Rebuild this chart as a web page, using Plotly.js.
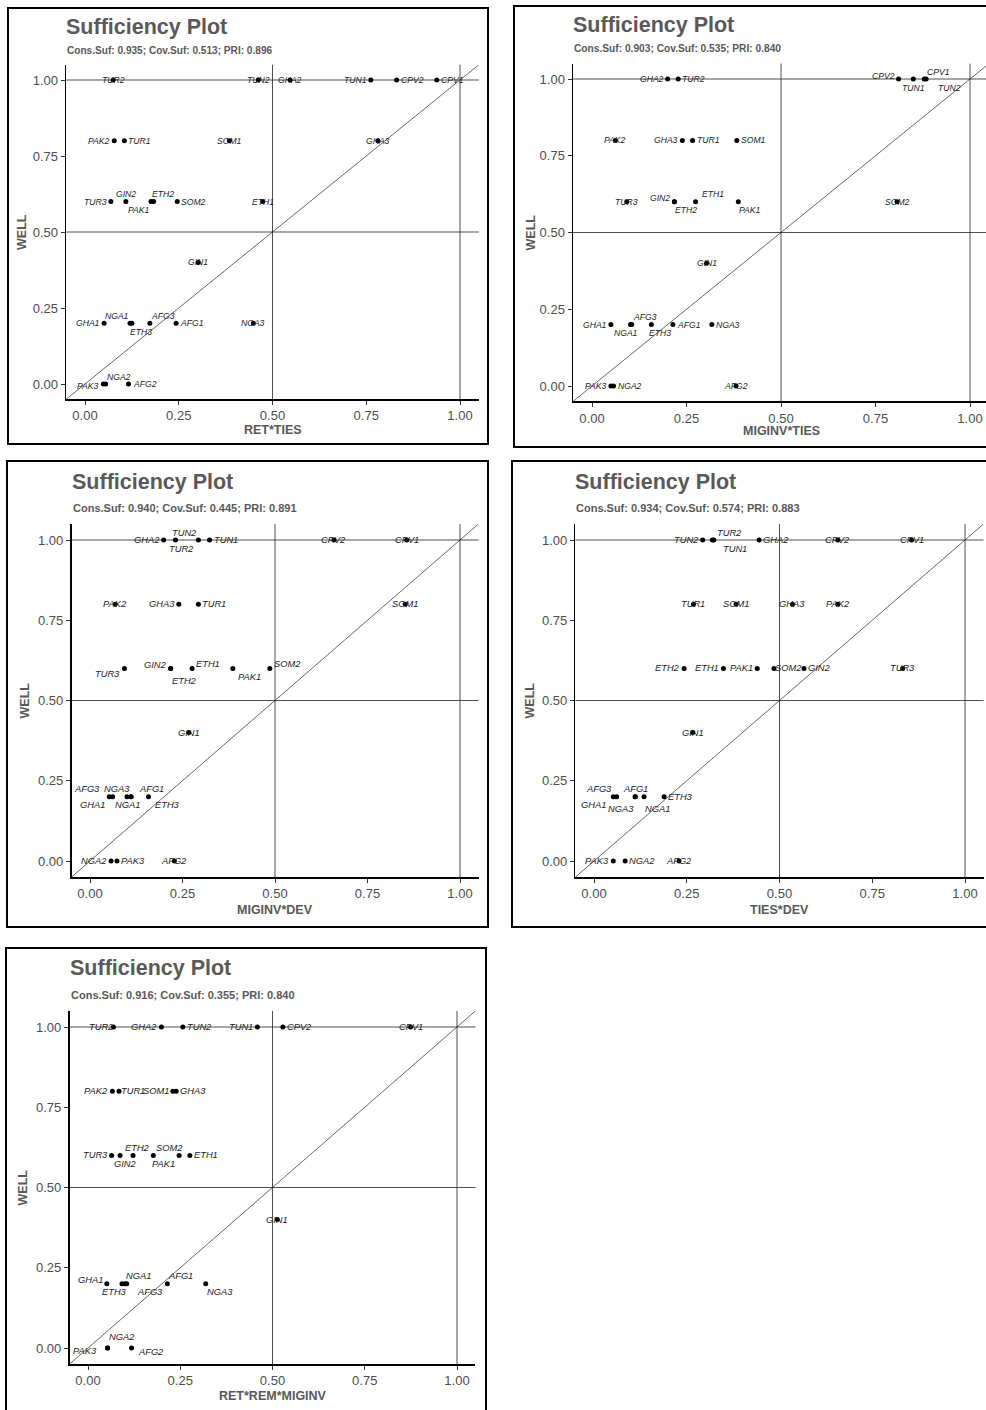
<!DOCTYPE html>
<html><head><meta charset="utf-8">
<script src="https://cdn.plot.ly/plotly-3.0.1.min.js"></script>
<style>html,body{margin:0;padding:0;background:#fff}#chart{width:986px;height:1410px}</style>
</head><body><div id="chart"></div>
<script>
// ---------------- DATA ----------------
const cases = ['AFG1','AFG2','AFG3','CPV1','CPV2','ETH1','ETH2','ETH3','GHA1','GHA2','GHA3','GIN1','GIN2','NGA1','NGA2','NGA3','PAK1','PAK2','PAK3','SOM1','SOM2','TUN1','TUN2','TUR1','TUR2','TUR3'];
const well = [0.2,0,0.2,1,1,0.6,0.6,0.2,0.2,1,0.8,0.4,0.6,0.2,0,0.2,0.6,0.8,0,0.8,0.6,1,1,0.8,1,0.6];
const retTies      = [0.243,0.116,0.173,0.938,0.831,0.474,0.183,0.125,0.051,0.547,0.781,0.302,0.109,0.120,0.055,0.449,0.176,0.078,0.049,0.385,0.246,0.762,0.462,0.105,0.075,0.069];
const miginvTies   = [0.214,0.381,0.105,0.879,0.811,0.274,0.218,0.157,0.050,0.200,0.239,0.303,0.218,0.102,0.057,0.317,0.387,0.062,0.050,0.383,0.807,0.850,0.884,0.266,0.228,0.092];
const miginvDev    = [0.111,0.228,0.052,0.856,0.659,0.276,0.218,0.158,0.061,0.199,0.240,0.267,0.218,0.100,0.057,0.111,0.386,0.068,0.073,0.852,0.486,0.323,0.293,0.293,0.231,0.093];
const tiesDev      = [0.111,0.229,0.052,0.856,0.657,0.349,0.243,0.189,0.061,0.445,0.535,0.266,0.566,0.135,0.084,0.111,0.440,0.657,0.052,0.383,0.485,0.323,0.293,0.268,0.319,0.832];
const retRemMiginv = [0.215,0.118,0.105,0.874,0.528,0.276,0.122,0.092,0.051,0.199,0.239,0.513,0.087,0.100,0.053,0.319,0.177,0.066,0.053,0.230,0.247,0.459,0.257,0.084,0.069,0.064];
const conditions = ['RET*TIES','MIGINV*TIES','MIGINV*DEV','TIES*DEV','RET*REM*MIGINV'];
const consSuf = [0.935,0.903,0.940,0.934,0.916];
const covSuf  = [0.513,0.535,0.445,0.574,0.355];
const pri     = [0.896,0.840,0.891,0.883,0.840];
const outcome = 'WELL';
const tickVals = [0,0.25,0.5,0.75,1];
const tickLabels = ['0.00','0.25','0.50','0.75','1.00'];
const thresholds = [0.5,1];
const seriesX = [retTies, miginvTies, miginvDev, tiesDev, retRemMiginv];

// ---------------- LABEL PLACEMENT (style only) ----------------
const MR='middle right',ML='middle left',MC='middle center',TR='top right',TL='top left',TC='top center',BR='bottom right',BL='bottom left',BC='bottom center';
const labelPos = [
 [MR,MR,TR,MR,MR,MC,TR,BR,ML,MC,MC,MC,TC,TL,TR,MC,BL,ML,ML,MC,MR,ML,MC,MR,MC,ML],
 [MR,MC,TR,TR,ML,TR,BR,BR,ML,ML,ML,MC,ML,BC,MR,MR,BR,MC,ML,MR,MC,BC,BR,MR,MR,MC],
 [TR,MC,TL,MC,MC,MR,BR,BR,BL,ML,ML,MC,ML,BC,ML,TL,BR,MC,MR,MC,MR,MR,TL,MR,BC,ML],
 [TC,MC,TL,MC,MC,ML,ML,MR,BL,MR,MC,MC,MR,BR,MR,BL,ML,MC,ML,MC,MR,BR,ML,MC,TR,MC],
 [TR,MR,BR,MC,MR,MR,TC,BL,ML,ML,MR,MC,BC,TR,TR,BR,BR,ML,ML,ML,TL,ML,MR,MR,ML,ML]
];
// extra pixel nudges [dx, dy(up)] per panel, keyed by case
const labelNudge = [
 {ETH2:[-3,0],ETH3:[-3,0],PAK3:[0,-2]},
 {GIN2:[0,4],ETH1:[5,0],NGA1:[-5,0],ETH3:[-3,0],TUN2:[11,0],CPV1:[2,0],CPV2:[0,3]},
 {GIN2:[0,3],TUR3:[0,-6],ETH1:[0,4],SOM2:[0,4],ETH2:[0,-4],PAK1:[4,0],AFG3:[-8,0],AFG1:[7,0],GHA1:[-7,0],ETH3:[6,0],TUR2:[6,0]},
 {GHA1:[-10,0],NGA3:[0,-4],NGA1:[0,-4],TUR2:[4,0],TUN1:[8,0],SOM2:[-3,0]},
 {GHA1:[0,4],ETH3:[6,0],AFG3:[9,0],PAK3:[-7,-3],AFG2:[2,-4],TUR2:[5,0],TUR1:[-2,0],GIN2:[5,0],ETH2:[4,0],PAK1:[-2,0],SOM2:[5,0],NGA2:[0,4]}
];

// ---------------- GEOMETRY (pixels) ----------------
const W=986,H=1410;
const geo = [
 {box:[8,8,488,444],   x0:85, x1:460, yT:80,   yB:384,  titleY:27,  subY:51,  xTitleY:429.5, yTitleX:22,  lab:8.6, sub:10.1},
 {box:[514,6,1000,447],x0:592,x1:970, yT:79,   yB:386,  titleY:25,  subY:49,  xTitleY:431,   yTitleX:530, lab:8.6, sub:10.2},
 {box:[7,461,488,927], x0:90, x1:460, yT:540,  yB:861,  titleY:482, subY:508, xTitleY:910,   yTitleX:24,  lab:9.3, sub:11},
 {box:[512,461,1000,927],x0:594,x1:965,yT:540, yB:861,  titleY:482, subY:508, xTitleY:910,   yTitleX:529, lab:9.3, sub:11},
 {box:[6,948,486,1420],x0:88, x1:457, yT:1027, yB:1348, titleY:968, subY:995, xTitleY:1396,  yTitleX:22,  lab:9.3, sub:11}
];

const FONT = 'Liberation Sans, Arial, Helvetica, sans-serif';
const traces=[], shapes=[], annotations=[];
const layout = {width:W,height:H,margin:{l:0,r:0,t:0,b:0},paper_bgcolor:'#fff',plot_bgcolor:'#fff',
  showlegend:false,hovermode:false,font:{family:FONT}};

function anchorFor(pos){
  const [v,h]=pos.split(' ');
  const a={xanchor:'center',yanchor:'middle',xshift:0,yshift:0};
  if(h==='right'){a.xanchor='left';a.xshift=3;}
  if(h==='left'){a.xanchor='right';a.xshift=-3;}
  if(v==='top'){a.yanchor='bottom';a.yshift=1.5;if(h!=='center')a.xshift=0;}
  if(v==='bottom'){a.yanchor='top';a.yshift=-2.5;if(h!=='center')a.xshift=0;}
  return a;
}

geo.forEach((g,i)=>{
  const k=i+1, sfx = k===1?'':String(k);
  const xa='x'+sfx, ya='y'+sfx;
  const sx=g.x1-g.x0, sy=g.yB-g.yT;
  const lpx=g.x0-0.05*sx, rpx=Math.min(W,g.x1+0.05*sx);
  const tpx=g.yT-0.05*sy, bpx=g.yB+0.05*sy;
  const axCommon = {showgrid:false,zeroline:false,showline:true,linecolor:'#000',linewidth:1.6,
     ticks:'outside',ticklen:4,tickwidth:1,tickcolor:'#333',tickvals:tickVals,ticktext:tickLabels,
     tickfont:{family:FONT,size:13,color:'#4d4d4d'},fixedrange:true};
  layout['xaxis'+sfx]=Object.assign({},axCommon,{domain:[lpx/W,rpx/W],range:[(lpx-g.x0)/sx,(rpx-g.x0)/sx],anchor:ya});
  layout['yaxis'+sfx]=Object.assign({},axCommon,{domain:[1-bpx/H,1-tpx/H],range:[-0.05,1.05],anchor:xa});

  // diagonal y = x
  traces.push({type:'scatter',mode:'lines',x:[-0.05,1.05],y:[-0.05,1.05],xaxis:xa,yaxis:ya,
     line:{color:'#000',width:0.6},hoverinfo:'skip'});
  // points
  traces.push({type:'scatter',mode:'markers',x:seriesX[i],y:well,text:cases,xaxis:xa,yaxis:ya,
     cliponaxis:false,marker:{color:'#000',size:5}});
  // labels (anchored to each point's data coordinates)
  seriesX[i].forEach((xv,j)=>{
    const a=anchorFor(labelPos[i][j]);
    const n=labelNudge[i][cases[j]]||[0,0];
    annotations.push({xref:xa,yref:ya,x:xv,y:well[j],text:cases[j],showarrow:false,
      xanchor:a.xanchor,yanchor:a.yanchor,xshift:a.xshift+n[0],yshift:a.yshift+n[1],borderpad:0,
      font:{family:FONT,size:g.lab,style:'italic',color:'#222'}});
  });

  // threshold reference lines
  thresholds.forEach(t=>{
    shapes.push({type:'line',layer:'below',xref:xa,yref:ya+' domain',x0:t,x1:t,y0:0,y1:1,line:{color:'#222',width:0.8}});
    shapes.push({type:'line',layer:'below',xref:xa+' domain',yref:ya,x0:0,x1:1,y0:t,y1:t,line:{color:'#222',width:0.8}});
  });
  // panel border
  shapes.push({type:'rect',xref:'paper',yref:'paper',x0:g.box[0]/W,x1:g.box[2]/W,y0:1-g.box[3]/H,y1:1-g.box[1]/H,
     line:{color:'#000',width:2},fillcolor:'rgba(0,0,0,0)'});

  // titles
  annotations.push({xref:'paper',yref:'paper',x:lpx/W,y:1-g.titleY/H,xanchor:'left',yanchor:'middle',showarrow:false,xshift:-2,
     text:'<b>Sufficiency Plot</b>',font:{family:FONT,size:21.5,color:'#595959'}});
  annotations.push({xref:'paper',yref:'paper',x:lpx/W,y:1-g.subY/H,xanchor:'left',yanchor:'middle',showarrow:false,xshift:-1,
     text:'<b>Cons.Suf: '+consSuf[i].toFixed(3)+'; Cov.Suf: '+covSuf[i].toFixed(3)+'; PRI: '+pri[i].toFixed(3)+'</b>',
     font:{family:FONT,size:g.sub,color:'#595959'}});
  annotations.push({xref:xa,yref:'paper',x:0.5,y:1-g.xTitleY/H,xanchor:'center',yanchor:'middle',showarrow:false,
     text:'<b>'+conditions[i]+'</b>',font:{family:FONT,size:12.5,color:'#595959'}});
  annotations.push({xref:'paper',yref:ya,x:g.yTitleX/W,y:0.5,xanchor:'center',yanchor:'middle',showarrow:false,textangle:-90,
     text:'<b>'+outcome+'</b>',font:{family:FONT,size:12.5,color:'#595959'}});
});
layout.shapes=shapes;
layout.annotations=annotations;
Plotly.newPlot('chart',traces,layout,{staticPlot:true,displayModeBar:false});
</script></body></html>
